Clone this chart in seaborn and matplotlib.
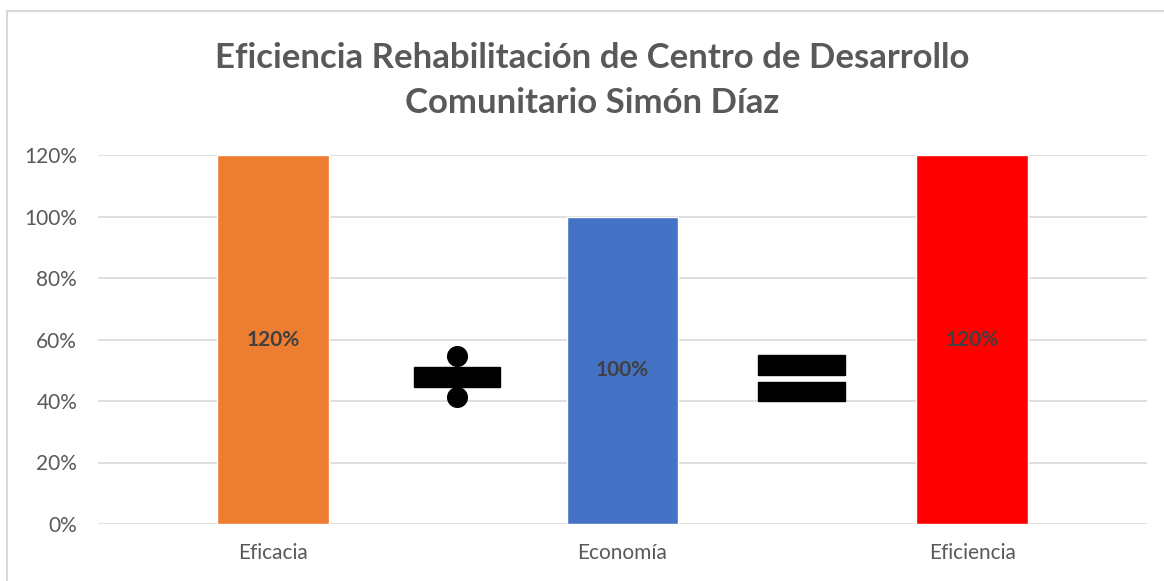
import matplotlib.pyplot as plt
import seaborn as sns
import pandas as pd
from matplotlib.patches import Rectangle

# data
categories = ['Eficacia', 'Economía', 'Eficiencia']
values = [120, 100, 120]
bar_labels = ['120%', '100%', '120%']
yticks = [0, 20, 40, 60, 80, 100, 120]
ytick_labels = ['0%', '20%', '40%', '60%', '80%', '100%', '120%']
colors = ['#ed7d31', '#4472c4', '#ff0000']

df = pd.DataFrame({'cat': categories, 'val': values})

sns.set_style('white')
plt.rcParams['font.family'] = ['Lato', 'DejaVu Sans']
grey = '#595959'

fig = plt.figure(figsize=(11.64, 5.81), dpi=100)
ax = fig.add_axes([98 / 1164, 57 / 581, 1049 / 1164, 369 / 581])

sns.barplot(data=df, x='cat', y='val', hue='cat', palette=colors,
            width=0.32, legend=False, ax=ax, saturation=1)

ax.set_ylim(0, 120)
ax.set_xlim(-0.5, 2.5)
ax.set_yticks(yticks)
ax.set_yticklabels(ytick_labels)
ax.set_xlabel('')
ax.set_ylabel('')
ax.grid(axis='y', color='#d9d9d9', lw=1.2)
ax.set_axisbelow(True)
for s in ax.spines.values():
    s.set_visible(False)
ax.tick_params(axis='both', length=0, labelsize=15, labelcolor=grey)
ax.tick_params(axis='y', pad=15)
ax.tick_params(axis='x', pad=14)

# value labels at the middle of each bar
for i, (v, lab) in enumerate(zip(values, bar_labels)):
    ax.text(i, v / 2, lab, ha='center', va='center', fontsize=15,
            fontweight='bold', color='#404040')

# division sign between first and second bar
ax.add_patch(Rectangle((0.404, 44.6), 0.246, 6.5, color='black', zorder=3))
ax.scatter([0.527, 0.527], [54.6, 41.3], s=200, color='black', zorder=3)

# equals sign between second and third bar
ax.add_patch(Rectangle((1.387, 48.5), 0.249, 6.5, color='black', zorder=3))
ax.add_patch(Rectangle((1.387, 40.0), 0.249, 6.2, color='black', zorder=3))

tx = 592 / 1164
fig.text(tx, 1 - 58 / 581, 'Eficiencia Rehabilitación de Centro de Desarrollo',
         ha='center', va='center', fontsize=25, fontweight='bold', color=grey)
fig.text(tx, 1 - 103 / 581, 'Comunitario Simón Díaz',
         ha='center', va='center', fontsize=25, fontweight='bold', color=grey)

# chart border
fig.patches.append(Rectangle((7 / 1164, -0.1), 1.2, 1 - 11 / 581 + 0.1,
                             transform=fig.transFigure, fill=False,
                             edgecolor='#d9d9d9', lw=1.5))

fig.savefig('out.png', dpi=100)
